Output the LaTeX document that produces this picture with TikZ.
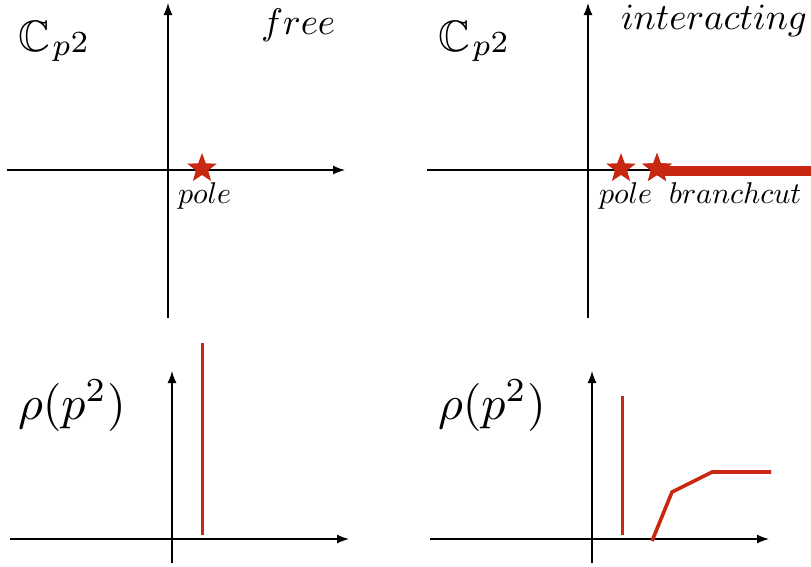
\documentclass[tikz,border=0pt]{standalone}
\usepackage{amssymb}
\usetikzlibrary{arrows.meta,shapes.geometric}
\definecolor{myred}{RGB}{200,40,18}
\tikzset{
  axis/.style={line width=1.3pt,-{Latex[length=12pt,width=9pt]}},
  plainaxis/.style={line width=1.3pt},
  spike/.style={draw=myred,line width=3pt},
  curve/.style={draw=myred,line width=3.6pt,line join=miter},
  cut/.style={draw=myred,line width=10pt},
  starmark/.style={star,star points=5,star point ratio=2.4,fill=myred,minimum size=31pt,inner sep=0pt},
  lbl/.style={anchor=base west,inner sep=0pt,outer sep=0pt}
}
\newcommand{\cpsq}{\scalebox{4.4}{$\mathbb{C}\kern0.6pt\raisebox{-1.1pt}{$\scriptstyle p$}\raisebox{-0.3pt}{$\scriptstyle 2$}$}}
\begin{document}
\begin{tikzpicture}[x=1pt,y=-1pt]
\useasboundingbox (0,0) rectangle (811,566);
% ---------- top left ----------
\coordinate (tlxa) at (7,170);
\coordinate (tlxb) at (345,170);
\coordinate (tlya) at (168,318);
\coordinate (tlyb) at (168,3);
\draw[axis] (tlxa) -- (tlxb);
\draw[axis] (tlya) -- (tlyb);
\node[starmark] (s1) at (202,168.5) {};
\node[lbl] (c1) at (18,51) {\cpsq};
\node[lbl] (free) at (261,34) {\scalebox{3.7}{$free$}};
\node[lbl] (pole1) at (178,203) {\scalebox{3.0}{$pole$}};
% ---------- top right ----------
\coordinate (trxa) at (427,170);
\coordinate (trxb) at (811,170);
\coordinate (trya) at (588,318);
\coordinate (tryb) at (588,3);
\draw[plainaxis] (trxa) -- (trxb);
\draw[axis] (trya) -- (tryb);
\coordinate (cutend) at (811,170.5);
\node[starmark] (s2) at (621,168.5) {};
\node[starmark] (s3) at (657,168.5) {};
\draw[cut] (s3.center |- cutend) -- (cutend);
\node[starmark] at (s3.center) {};
\node[lbl] (c2) at (438,51) {\cpsq};
\node[lbl] (inter) at (621,29) {\scalebox{3.7}{$interacting$}};
\node[lbl] (pole2) at (599,203) {\scalebox{3.0}{$pole$}};
\node[lbl] (bc) at (669,203) {\scalebox{3.0}{$branchcut$}};
% ---------- bottom left ----------
\coordinate (blxa) at (10,539);
\coordinate (blxb) at (349,539);
\coordinate (blya) at (172,563);
\coordinate (blyb) at (172,371);
\draw[axis] (blxa) -- (blxb);
\draw[axis] (blya) -- (blyb);
\coordinate (sp1a) at (202,343);
\coordinate (sp1b) at (202,535);
\draw[spike] (sp1a) -- (sp1b);
\node[lbl] (r1) at (18,419) {\scalebox{4.8}{$\rho(p^2)$}};
% ---------- bottom right ----------
\coordinate (brxa) at (430,539);
\coordinate (brxb) at (769,539);
\coordinate (brya) at (592,563);
\coordinate (bryb) at (592,371);
\draw[axis] (brxa) -- (brxb);
\draw[axis] (brya) -- (bryb);
\coordinate (sp2a) at (622,396);
\coordinate (sp2b) at (622,535);
\draw[spike] (sp2a) -- (sp2b);
\coordinate (k1) at (652,541);
\coordinate (k2) at (672,492);
\coordinate (k3) at (712,472);
\coordinate (k4) at (771,472);
\draw[curve] (k1) -- (k2) -- (k3) -- (k4);
\node[lbl] (r2) at (438,419) {\scalebox{4.8}{$\rho(p^2)$}};
\end{tikzpicture}
\end{document}
